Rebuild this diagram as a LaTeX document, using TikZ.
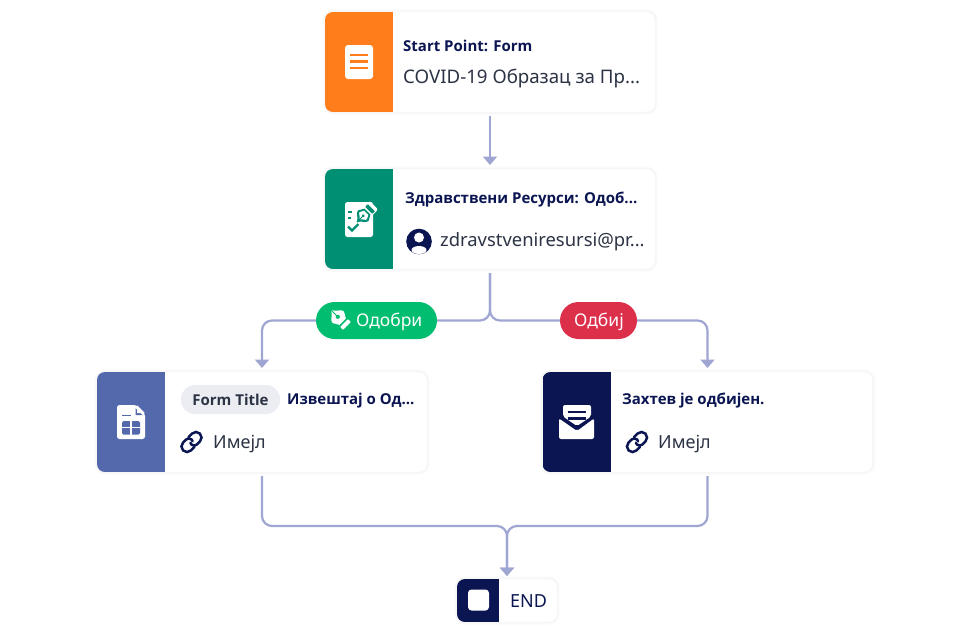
\documentclass[tikz,border=0pt]{standalone}
\usepackage{fontspec}
\setmainfont{Noto Sans}
\newfontfamily\headfont{Open Sans}
\usetikzlibrary{arrows.meta}
\definecolor{cOrange}{HTML}{FF7D1A}
\definecolor{cTeal}{HTML}{018F74}
\definecolor{cIndigo}{HTML}{5369AB}
\definecolor{cNavy}{HTML}{0A1551}
\definecolor{cFlow}{HTML}{A0A6D2}
\definecolor{cGreen}{HTML}{01BD6F}
\definecolor{cRed}{HTML}{DC2F4A}
\definecolor{cInk}{HTML}{2C3345}
\definecolor{cChip}{HTML}{ECEDF3}
\tikzset{
  x=1pt,y=-1pt,
  cardbox/.style={draw=black!3,line width=.5pt,fill=white,rounded corners=8pt,inner sep=0,outer sep=0,
    minimum width=330pt,minimum height=100pt,
    preaction={draw=black,draw opacity=.012,line width=6pt,fill=none,yshift=-1.5pt},
    preaction={draw=black,draw opacity=.022,line width=3pt,fill=none,yshift=-1.5pt}},
  endbox/.style={cardbox,minimum width=100pt,minimum height=43pt},
  pill/.style={rounded corners=18.5pt,inner sep=0,outer sep=0,minimum height=37pt,text=white,font=\fontsize{17.5}{20}\selectfont},
  head/.style={anchor=base west,inner sep=0,text=cNavy,font=\headfont\fontsize{15}{17}\bfseries\selectfont},
  body/.style={anchor=base west,inner sep=0,text=cInk,font=\fontsize{18}{20}\selectfont},
  flow/.style={draw=cFlow,line width=2.2pt,rounded corners=10pt},
  tip/.style={-{Triangle[width=14pt,length=8.5pt]}},
  lnk/.style={draw=cNavy,line width=2.5pt,line cap=round,fill=none},
}
\newcommand{\panel}[3]{%
  \begin{scope}
    \clip[rounded corners=8pt] (#1.north west) rectangle (#1.south east);
    \fill[#2] (#1.north west) rectangle ([xshift=#3pt]#1.south west);
  \end{scope}}
\newcommand{\linkmark}[2]{%
  \begin{scope}[shift={(#1,#2)},rotate=45,scale=1.4]
    \draw[lnk] (-1,4) -- (-4.5,4) arc[start angle=90,end angle=270,radius=4] -- (-1.5,-4) arc[start angle=-90,end angle=30,radius=2.8];
    \draw[lnk] (1,-4) -- (4.5,-4) arc[start angle=-90,end angle=90,radius=4] -- (1.5,4) arc[start angle=90,end angle=210,radius=2.8];
  \end{scope}}
% pen nib: tip on -x, tail on +x; #4 = scale, #5 = colour
\newcommand{\nibshape}[5]{%
  \begin{scope}[shift={(#1,#2)},rotate=#3,scale=#4]
    \fill[#5] (-10,0) .. controls (-6,-2) and (-5,-6.5) .. (-2,-6.5) -- (3,-3.6) -- (3,3.6) -- (-2,6.5) .. controls (-5,6.5) and (-6,2) .. (-10,0) -- cycle;
    \fill[#5,rounded corners=.6pt] (4.6,-4.4) rectangle (7.8,4.4);
  \end{scope}}
\begin{document}
\begin{tikzpicture}
\useasboundingbox (0,0) rectangle (968,633);
\fill[white] (0,0) rectangle (968,633);

% cards
\node[cardbox] (card1) at (490,62) {};
\node[cardbox] (card2) at (490,219) {};
\node[cardbox] (card3) at (262,422) {};
\node[cardbox] (card4) at (707.5,422) {};
\node[endbox] (finish) at (507,600.5) {};
\panel{card1}{cOrange}{68}
\panel{card2}{cTeal}{68}
\panel{card3}{cIndigo}{68}
\panel{card4}{cNavy}{68}
\panel{finish}{cNavy}{42}

% pills
\node[pill,fill=cGreen,minimum width=121pt] (yes) at (376.5,320.5) {};
\node[pill,fill=cRed,minimum width=77pt] (no) at (598.5,320.5) {};

% connectors
\draw[flow,tip,shorten <=4pt,shorten >=4pt] (card1.south) -- (card2.north);
\draw[flow,shorten <=4pt] (card2.south) |- (yes.east);
\draw[flow,shorten <=4pt] (card2.south) |- (no.west);
\draw[flow,tip,shorten >=4pt] (yes.west) -| (card3.north);
\draw[flow,tip,shorten >=4pt] (no.east) -| (card4.north);
\coordinate (merge) at (507,526);
\draw[flow,tip,shorten <=4pt,shorten >=3pt] (card3.south) |- (merge) -- (finish.north);
\draw[flow,tip,shorten <=4pt,shorten >=3pt] (card4.south) |- (merge) -- (finish.north);

% form icon
\fill[white,rounded corners=3pt] (345,45) rectangle (373,79);
\foreach \yy in {55,61.5,68} \draw[cOrange,line width=2.6pt] (350,\yy) -- (368,\yy);

% signed form icon
\fill[white,rounded corners=2.5pt] (345,202) rectangle (373,237);
\begin{scope}[shift={(365,214)},rotate=45]
  \fill[white,rounded corners=2pt] (0,-6) rectangle (12.5,6);
\end{scope}
\nibshape{365}{214}{45}{1.15}{cTeal}
\begin{scope}[shift={(365,214)},rotate=45,scale=1.15]
  \fill[white] (-6.5,0) .. controls (-4.5,-1) and (-3.8,-4.4) .. (-2.2,-4.5) -- (1.4,-2.6) -- (1.4,2.6) -- (-2.2,4.5) .. controls (-3.8,4.4) and (-4.5,1) .. (-6.5,0) -- cycle;
  \fill[cTeal] (-2.2,0) circle[radius=1.3];
  \draw[cTeal,line width=1pt] (-10,0) -- (-2.2,0);
\end{scope}
\draw[cTeal,line width=1.8pt] (348,212) -- (352,212) (348,218) -- (351,218);
\draw[cTeal,line width=2.2pt] (348,226.5) -- (352,230.5) -- (358.5,224);

% form table icon
\fill[white,rounded corners=2.5pt] (117,405) -- (136,405) -- (145,414) -- (145,439) -- (117,439) -- cycle;
\fill[cIndigo] (135.5,408) -- (135.5,415) -- (142.5,415) -- cycle;
\fill[white,rounded corners=.5pt] (137,405) -- (145,413) -- (137,413) -- cycle;
\draw[cIndigo,line width=1.6pt] (122,415.5) -- (131,415.5);
\fill[cIndigo,rounded corners=1.5pt] (122,421) rectangle (140,434.5);
\draw[white,line width=1.5pt] (122,427.7) -- (140,427.7) (131,421) -- (131,434.5);

% envelope icon
\fill[white,rounded corners=2pt] (563,405) -- (591,405) -- (591,416.5) -- (577,426) -- (563,416.5) -- cycle;
\draw[cNavy,line width=2.2pt] (567.5,412) -- (585.5,412) (567.5,418.5) -- (585.5,418.5);
\fill[white,rounded corners=2pt] (559,418.5) -- (577,431) -- (594,418.5) -- (594,439) -- (559,439) -- cycle;

% stop icon
\fill[white,rounded corners=3.5pt] (468,589.5) rectangle (489,610.5);

% pen in the green pill
\nibshape{340}{319}{-45}{1.25}{white}
\begin{scope}[shift={(340,319)},rotate=-45,scale=1.25]
  \fill[cGreen] (-2.5,0) circle[radius=1.7];
  \draw[cGreen,line width=1pt] (-10,0) -- (-2.5,0);
\end{scope}

% person
\begin{scope}
  \fill[cNavy] (419,241.5) circle[radius=12.8];
  \clip (419,241.5) circle[radius=12.8];
  \fill[white] (419,237.5) circle[radius=5];
  \fill[white] (419,250) ellipse[x radius=7.5,y radius=4];
\end{scope}

% link icons
\linkmark{191.5}{442}
\linkmark{637}{442}

% texts
\node[head] (t1) at (403,51.5) {Start Point: Form};
\node[body,font=\fontsize{18.7}{20}\selectfont] (t2) at (403,83) {COVID-19 Образац за Пр...};
\node[head] (t3) at (405,203.5) {Здравствени Ресурси: Одоб...};
\node[body,font=\fontsize{18.4}{20}\selectfont] (t4) at (440,246.5) {zdravstveniresursi@pr...};
\node[fill=cChip,rounded corners=14pt,inner sep=0,minimum width=99pt,minimum height=29pt,text=cInk,font=\headfont\fontsize{15}{17}\bfseries\selectfont] (chip) at (230.5,399.5) {Form Title};
\node[head] (t5) at (287,404) {Извештај о Од...};
\node[body] (t6) at (213,448) {Имејл};
\node[head] (t7) at (622,404) {Захтев је одбијен.};
\node[body] (t8) at (658,448) {Имејл};
\node[body,text=cNavy] (t9) at (510,607) {END};
\node[anchor=base west,inner sep=0,text=white,font=\fontsize{17.5}{20}\selectfont] (t10) at (356,326.5) {Одобри};
\node[anchor=base west,inner sep=0,text=white,font=\fontsize{17.5}{20}\selectfont] (t11) at (574,326.5) {Одбиј};
\end{tikzpicture}
\end{document}
